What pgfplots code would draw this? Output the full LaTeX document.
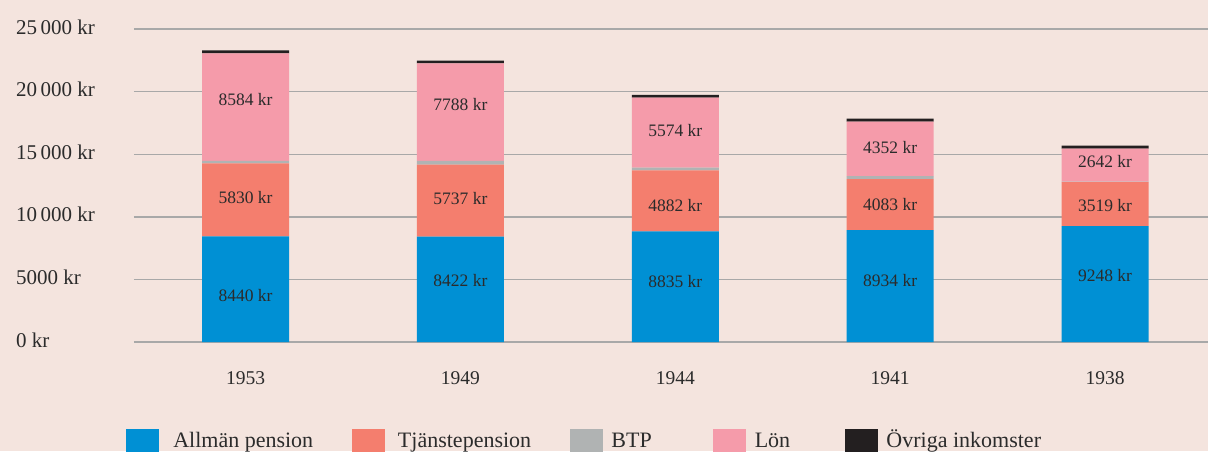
\documentclass[border=0pt]{standalone}
\usepackage{fontspec}
\setmainfont{Liberation Serif}
\usepackage{pgfplots}
\pgfplotsset{compat=1.18}

\definecolor{bgc}{HTML}{F4E4DE}
\definecolor{cA}{HTML}{0090D4}
\definecolor{cT}{HTML}{F47E6E}
\definecolor{cB}{HTML}{B0B3B3}
\definecolor{cL}{HTML}{F59BAA}
\definecolor{cO}{HTML}{231F20}
\definecolor{gridc}{HTML}{A8A8A8}
\definecolor{txt}{HTML}{2B2B2B}

\begin{document}
\begin{tikzpicture}
\clip (-134pt,-109pt) rectangle (1074pt,342pt);
\fill[bgc] (-134pt,-109pt) rectangle (1074pt,342pt);
\begin{axis}[
    scale only axis,
    width=1074pt, height=313pt,
    xmin=-0.519, xmax=4.479,
    ymin=0, ymax=25000,
    scaled ticks=false,
    ybar stacked, bar width=87pt,
    axis line style={draw=none},
    major tick length=0pt,
    ymajorgrids,
    grid style={line width=1.4pt, color=gridc},
    ytick={0,5000,10000,15000,20000,25000},
    yticklabels={0 kr,5000 kr,10\,000 kr,15\,000 kr,20\,000 kr,25\,000 kr},
    yticklabel style={anchor=west, xshift=-118pt, yshift=2pt, inner sep=0pt,
        font=\fontsize{21}{25}\selectfont, text=txt},
    xtick={0,1,2,3,4},
    xticklabels={1953,1949,1944,1941,1938},
    xticklabel style={anchor=center, yshift=-36pt, inner sep=0pt,
        font=\fontsize{19.5}{23}\selectfont, text=txt},
    legend columns=5,
    legend cell align=left,
    legend style={at={(axis description cs:-0.00745,-0.3195)}, anchor=west,
        draw=none, fill=none, inner sep=0pt, outer sep=0pt,
        column sep=0pt, row sep=0pt, nodes={inner sep=0pt},
        font=\fontsize{22}{26.4}\selectfont, text=txt},
    legend image code/.code={\fill[#1] (0pt,-16pt) rectangle (33pt,10.5pt);
        \path (41.5pt,0pt);},
]
\addplot[fill=cA, draw=none] coordinates {(0,8440) (1,8422) (2,8835) (3,8934) (4,9248)};
\addlegendentry{\makebox[184.5pt][l]{\hspace*{5.8pt}Allmän pension\strut}}
\addplot[fill=cT, draw=none] coordinates {(0,5830) (1,5737) (2,4882) (3,4083) (4,3519)};
\addlegendentry{\makebox[176.5pt][l]{\hspace*{4.5pt}Tjänstepension\strut}}
\addplot[fill=cB, draw=none] coordinates {(0,200) (1,300) (2,220) (3,240) (4,40)};
\addlegendentry{\makebox[101.8pt][l]{BTP\strut}}
\addplot[fill=cL, draw=none] coordinates {(0,8584) (1,7788) (2,5574) (3,4352) (4,2642)};
\addlegendentry{\makebox[90.2pt][l]{Lön\strut}}
\addplot[fill=cO, draw=none] coordinates {(0,230) (1,230) (2,230) (3,230) (4,230)};
\addlegendentry{Övriga inkomster\strut}
\end{axis}

\begin{axis}[
    scale only axis,
    width=1074pt, height=313pt,
    xmin=-0.519, xmax=4.479,
    ymin=0, ymax=25000,
    hide axis,
]
\addplot[draw=none, mark=none, nodes near coords, point meta=explicit symbolic,
    every node near coord/.style={anchor=center, inner sep=0pt,
        font=\fontsize{17.5}{21}\selectfont, text=txt}]
    coordinates {
    (0,3686)[8440 kr] (0,11538)[5830 kr] (0,19391)[8584 kr]
    (1,4888)[8422 kr] (1,11458)[5737 kr] (1,18990)[7788 kr]
    (2,4808)[8835 kr] (2,10897)[4882 kr] (2,16907)[5574 kr]
    (3,4888)[8934 kr] (3,10978)[4083 kr] (3,15545)[4352 kr]
    (4,5288)[9248 kr] (4,10897)[3519 kr] (4,14423)[2642 kr]
    };
\end{axis}
\end{tikzpicture}
\end{document}
